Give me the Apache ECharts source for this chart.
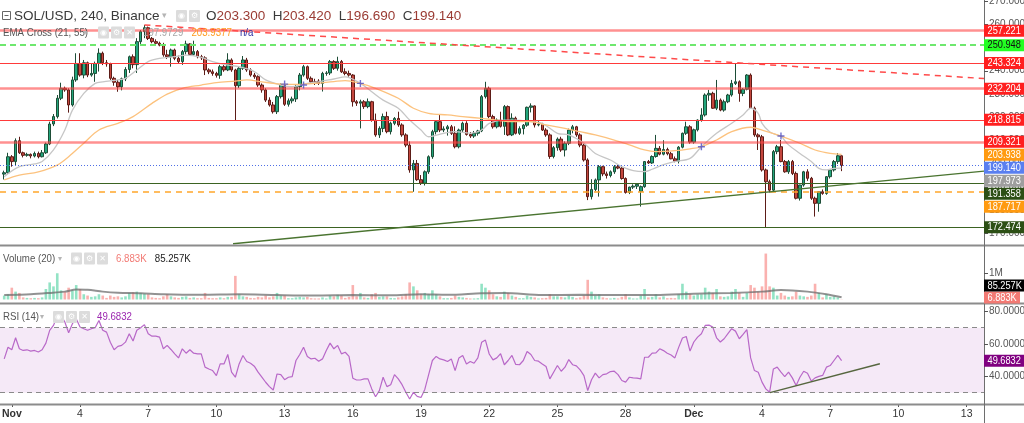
<!DOCTYPE html>
<html><head><meta charset="utf-8">
<script src="https://cdn.jsdelivr.net/npm/echarts@6/dist/echarts.min.js"></script>
<style>html,body{margin:0;padding:0;background:#fff;overflow:hidden}#c{width:1024px;height:423px}</style>
</head><body><div id="c"></div>
<script>
// ---------- DATA ----------
const firstIndex = -2; // candle index of first bar (0 = 1 Nov 00:00, 6 bars per day)
// [open, high, low, close]
const ohlc = [
[195.4,196.9,193.1,196.0],[196.0,204.6,195.4,202.9],[202.9,203.6,198.6,200.8],[200.8,210.8,199.0,209.8],
[209.8,211.5,204.1,204.6],[204.6,205.1,202.6,203.5],[203.5,204.6,202.9,203.9],[203.9,204.3,202.2,203.2],
[203.2,205.1,202.6,204.3],[204.3,205.1,202.2,202.9],[202.9,205.8,202.6,204.6],[204.6,209.0,204.1,208.4],
[208.4,218.0,207.9,217.0],[217.0,221.3,216.1,220.2],[220.2,229.5,219.4,228.1],[228.1,234.8,227.3,232.4],
[232.4,233.1,230.9,231.7],[231.7,232.4,221.9,225.2],[225.2,237.4,224.5,236.0],[236.0,247.5,235.2,243.1],
[243.1,247.5,237.4,238.1],[238.1,244.6,236.7,243.4],[243.4,243.9,237.2,238.1],[238.1,243.1,237.4,238.8],
[238.8,243.9,235.2,243.1],[243.1,249.6,239.6,247.5],[247.5,248.2,242.4,243.4],[243.4,244.6,241.7,242.9],
[242.9,243.4,236.0,236.7],[236.7,237.4,233.5,235.0],[235.0,236.0,230.9,233.0],[233.0,237.0,231.5,236.5],
[236.5,241.5,235.5,240.5],[240.5,246.5,239.0,246.0],[246.0,247.0,241.0,242.6],[242.6,254.0,239.0,252.5],
[252.5,257.5,251.5,256.8],[256.8,259.7,254.0,258.5],[258.5,259.0,253.2,253.9],[253.9,254.5,251.8,252.5],
[252.5,253.5,251.0,251.8],[251.8,252.5,250.5,251.0],[251.0,252.0,246.0,246.8],[246.8,249.0,245.0,246.0],
[246.0,249.5,241.7,248.9],[248.9,249.5,244.5,245.3],[245.3,246.5,243.1,243.9],[243.9,248.9,242.5,248.2],
[248.2,252.9,247.0,251.5],[251.5,251.8,246.5,247.0],[247.0,252.9,246.5,248.2],[248.2,248.9,245.3,246.0],
[246.0,246.8,244.6,245.5],[245.5,246.2,238.1,240.3],[240.3,241.0,238.5,239.5],[239.5,240.5,237.8,238.8],
[238.8,239.5,237.0,238.0],[238.0,242.5,236.5,241.7],[241.7,242.4,239.5,240.3],[240.3,247.5,239.8,244.6],
[244.6,245.3,239.5,240.3],[240.3,240.8,218.7,233.5],[233.5,241.5,232.5,241.0],[241.0,246.3,240.3,244.6],
[244.6,245.5,239.5,240.3],[240.3,241.0,237.4,238.1],[238.1,239.0,236.5,237.4],[237.4,238.0,233.0,233.8],
[233.8,234.5,230.5,231.7],[231.7,232.4,226.5,227.3],[227.3,228.5,224.5,225.2],[225.2,226.5,221.5,222.3],
[222.3,229.5,221.3,228.8],[228.8,234.5,228.0,233.8],[233.8,234.2,224.8,225.5],[225.5,228.0,224.5,227.0],
[227.0,228.8,225.9,227.8],[227.8,233.8,226.5,233.1],[233.1,239.0,231.5,238.1],[238.1,242.5,237.4,241.7],
[241.7,242.2,236.0,236.7],[236.7,237.5,234.5,235.2],[235.2,236.5,233.8,234.5],[235.5,236.3,233.8,234.5],
[234.5,239.5,231.0,238.8],[238.8,239.8,237.8,239.0],[239.0,244.6,238.1,243.9],[243.9,244.5,240.3,241.0],
[241.0,246.0,240.0,243.9],[243.9,244.6,239.0,239.5],[239.5,241.0,238.0,238.8],[238.8,240.0,237.4,238.1],
[238.1,238.5,224.5,226.6],[226.6,227.3,224.8,226.0],[226.0,227.5,215.1,226.6],[226.6,227.3,223.5,224.5],
[224.5,228.0,223.8,226.6],[226.6,227.0,218.0,218.7],[218.7,221.5,211.5,212.3],[212.3,216.0,211.0,215.1],
[215.1,221.5,213.5,220.2],[220.2,222.3,213.0,213.7],[213.7,218.0,212.5,217.3],[217.3,220.0,216.5,219.4],
[219.4,222.3,215.8,216.6],[216.6,217.3,211.5,212.3],[212.3,213.0,207.0,207.9],[207.9,209.5,196.0,197.2],
[197.2,201.5,187.8,200.0],[200.0,201.5,192.5,193.0],[193.0,195.0,190.7,191.5],[191.5,197.0,190.5,196.4],
[196.4,203.5,195.5,202.9],[202.9,214.5,202.0,213.7],[213.7,218.7,212.5,218.0],[218.0,220.9,213.5,214.4],
[214.4,216.0,213.5,214.9],[214.9,216.6,212.0,215.8],[215.8,216.6,212.3,213.0],[213.0,216.0,206.5,207.2],
[207.2,215.0,206.5,214.4],[214.4,218.0,213.5,217.3],[217.3,218.2,212.0,212.5],[212.5,213.5,211.0,211.8],
[211.8,214.0,211.0,213.0],[213.0,214.5,212.0,214.0],[214.0,229.5,213.5,228.8],[228.8,235.2,228.0,232.4],
[232.4,233.1,219.5,220.2],[220.2,221.0,215.0,215.8],[215.8,219.4,215.1,218.7],[218.7,222.3,215.5,216.0],
[216.0,225.2,212.3,224.5],[224.5,225.0,211.8,212.3],[212.3,221.6,211.8,219.5],[219.5,220.2,212.5,213.0],
[213.0,216.0,212.3,215.0],[215.0,217.0,212.5,216.5],[216.5,224.5,215.8,224.2],[224.2,225.9,222.0,224.8],
[224.8,225.0,215.5,216.6],[216.6,218.7,216.0,216.8],[216.8,217.5,214.0,214.4],[214.4,215.2,211.5,212.3],
[212.3,213.0,202.0,203.0],[203.0,207.5,202.2,206.8],[206.8,211.2,205.5,210.5],[210.5,211.5,205.0,205.8],
[205.8,209.5,203.0,208.7],[208.7,215.0,207.9,214.4],[214.4,216.6,213.0,215.8],[215.8,216.2,211.5,212.3],
[212.3,213.0,207.0,207.9],[207.9,208.5,200.8,201.5],[201.5,202.2,184.2,185.7],[185.7,193.2,184.5,188.8],
[188.8,193.5,188.0,192.9],[192.9,199.3,185.7,198.6],[198.6,199.0,194.5,195.5],[195.5,196.5,193.5,194.8],
[194.8,197.0,194.0,196.4],[196.4,199.3,195.5,198.6],[198.6,199.5,197.5,198.0],[198.0,198.5,193.0,193.5],
[193.5,194.0,187.0,187.5],[187.5,190.0,186.8,189.8],[189.8,191.0,189.0,190.2],[190.2,191.5,189.0,191.0],
[188.0,190.5,181.4,190.0],[190.0,201.0,189.5,200.8],[200.8,201.5,199.8,200.2],[200.2,203.5,199.8,203.0],
[203.0,212.3,202.5,206.5],[206.5,207.5,203.5,204.0],[204.0,210.0,203.5,206.0],[206.0,206.8,203.5,204.2],
[204.2,205.0,201.8,202.0],[202.0,203.0,200.5,201.0],[201.0,207.5,200.0,207.0],[207.0,213.3,206.5,213.0],
[213.0,218.0,212.3,215.8],[215.8,216.5,208.5,209.2],[209.2,215.0,208.5,214.5],[214.5,219.0,213.8,218.7],
[218.7,223.8,218.0,220.9],[220.9,230.2,220.2,229.5],[229.5,231.7,227.0,230.2],[230.2,230.9,223.5,223.8],
[223.8,236.0,223.0,227.3],[227.3,228.0,222.5,223.0],[223.0,227.5,222.3,226.6],[226.6,230.0,226.0,229.5],
[229.5,236.0,228.8,234.5],[234.5,243.1,233.8,235.2],[235.2,235.8,226.6,230.2],[230.2,232.5,229.0,232.0],
[232.0,238.5,231.5,238.1],[238.1,238.8,223.5,223.8],[223.8,224.5,211.5,212.3],[212.3,213.0,205.8,211.5],
[211.5,212.3,196.5,197.2],[197.2,197.8,172.474,192.1],[192.1,193.0,187.5,188.5],[188.5,205.8,188.0,205.1],
[205.1,208.0,204.0,207.2],[207.2,210.1,200.5,200.8],[200.8,201.5,196.0,196.4],[196.4,201.5,195.5,200.8],
[200.8,201.5,195.0,195.7],[195.7,196.5,184.5,185.0],[185.0,190.8,184.0,190.7],[190.7,196.8,190.0,196.4],
[196.4,197.5,192.5,193.6],[193.6,194.2,184.3,185.0],[185.0,185.7,177.1,182.8],[182.8,188.0,179.2,187.8],
[187.8,188.8,186.5,187.1],[187.1,194.5,186.5,194.3],[194.3,197.5,193.5,197.2],[197.2,201.5,196.5,200.8],
[200.8,204.5,199.8,203.3],[203.3,203.42,196.69,199.14]
];
// volume per bar, in thousands
const volumes = [
150,200,450,300,250,80,60,50,60,50,80,400,650,500,1000,350,300,450,350,550,400,200,150,100,120,200,150,60,150,100,
120,80,120,250,280,300,250,220,200,80,60,50,120,200,120,80,60,100,120,60,80,50,50,250,60,50,50,80,50,100,
100,900,200,120,100,60,50,100,80,150,80,120,250,150,150,50,50,80,100,80,100,50,40,40,80,40,150,120,180,150,
60,100,550,120,250,80,60,200,250,100,120,120,60,50,80,120,200,650,500,350,200,250,200,350,200,120,50,50,60,150,
100,80,60,40,40,50,600,450,350,200,120,100,300,250,150,100,50,50,150,100,80,40,50,60,200,120,120,100,80,150,
100,50,80,150,750,300,150,200,80,50,40,60,40,100,200,80,40,40,150,400,80,100,200,80,120,50,60,50,200,600,
300,200,150,200,200,450,300,250,400,120,100,120,300,400,250,100,250,550,450,300,500,1750,500,450,150,250,150,100,
120,300,150,120,100,150,600,250,80,200,100,120,80,6.883
];
// RSI(14) per bar
const rsiValues = [
50.8,58.0,56.4,63.8,57.0,56.0,56.4,55.6,56.0,55.0,56.4,60.5,68.4,71.4,77.2,77.6,73.5,66.9,72.5,75.6,
70.4,69.4,68.4,69.4,70.0,74.5,68.4,67.3,61.1,56.4,58.5,59.1,61.1,66.3,61.8,68.4,70.0,71.9,66.3,64.8,
64.8,64.2,57.0,59.1,56.6,53.9,51.4,57.0,54.3,56.4,54.3,53.9,53.9,45.7,44.6,43.6,40.5,47.7,47.7,53.5,
42.6,39.5,47.7,52.9,49.2,48.1,46.3,42.6,39.5,36.4,33.7,31.6,41.5,41.1,38.0,39.5,39.9,49.8,53.5,58.0,
52.3,50.8,51.2,49.4,50.8,56.0,60.5,57.0,59.1,53.9,54.9,52.3,38.9,37.8,37.8,38.5,38.5,32.3,27.5,31.2,
39.5,33.7,34.9,41.1,38.5,34.9,30.2,26.1,30.2,27.7,27.0,32.0,41.0,49.8,52.3,50.8,50.2,49.2,50.8,43.6,
51.4,52.9,47.7,49.2,48.1,51.4,61.0,62.4,53.8,50.2,51.4,54.0,47.2,49.8,52.9,47.4,47.2,49.8,55.4,53.5,
49.8,49.4,47.7,46.1,38.5,42.6,46.7,43.2,45.7,50.4,47.2,46.5,44.0,40.5,31.3,37.9,42.0,39.1,41.1,41.6,
43.0,43.2,41.1,37.5,36.5,39.5,39.1,38.9,38.5,51.8,51.8,54.3,54.5,57.0,55.9,54.3,53.2,51.4,57.9,63.7,
64.6,55.6,61.2,64.2,66.3,71.4,71.6,70.4,63.8,61.2,63.2,66.3,69.4,67.9,63.2,65.9,68.8,51.4,43.6,42.6,
36.5,32.3,30.2,44.6,45.7,42.6,39.9,42.6,39.1,34.4,39.5,43.2,42.0,37.1,39.1,40.0,40.6,45.7,46.7,49.8,
52.9,49.6832
];
// EMA lines: [bar index, price]
const ema21Points = [[-2,194.3],[2,198.6],[6,199.8],[8,200.8],[11,205.8],[14,214.4],[16,223.0],[19,230.2],[22,234.5],[24,235.2],[28,236.0],[30,236.7],[33,240.3],[36,243.9],[39,245.3],[43,246.0],[46,246.7],[50,245.7],[53,243.9],[57,242.4],[60,241.7],[64,239.6],[67,236.0],[71,233.8],[74,233.1],[78,234.5],[81,235.2],[85,236.4],[88,237.3],[92,234.5],[95,230.9],[98,227.3],[102,223.8],[105,218.7],[108,214.4],[110,211.5],[114,213.0],[117,213.7],[121,213.0],[124,214.4],[126,217.3],[130,218.7],[133,218.7],[137,218.0],[140,217.3],[144,213.0],[147,212.3],[151,208.7],[154,204.3],[158,201.5],[161,198.6],[164,196.9],[167,196.5],[169,197.5],[172,199.5],[175,200.8],[179,202.2],[182,207.2],[186,213.0],[190,217.3],[193,220.9],[195,223.8],[197,221.6],[198,217.3],[200,213.7],[202,212.3],[203,211.8],[205,208.0],[208,204.3],[211,200.8],[213,197.9],[215,197.2],[217,197.9],[219,197.973]];
const ema55Points = [[-2,192.9],[2,195.0],[7,196.4],[12,199.3],[15,202.9],[19,208.7],[23,214.4],[28,217.3],[32,220.2],[37,225.9],[41,229.9],[45,232.4],[50,233.8],[54,234.8],[59,235.5],[62,236.0],[66,235.2],[69,234.5],[72,234.1],[76,234.1],[80,234.5],[85,235.3],[88,235.7],[92,234.5],[96,232.4],[102,228.1],[106,223.8],[110,221.6],[115,220.9],[119,220.2],[124,219.4],[128,218.7],[132,218.0],[137,218.0],[141,216.6],[146,215.1],[150,213.7],[154,212.3],[159,210.1],[163,208.0],[167,205.8],[170,205.1],[175,205.5],[179,206.3],[182,207.2],[186,210.1],[190,213.7],[195,215.6],[198,214.4],[203,211.8],[208,208.7],[212,205.8],[216,204.3],[219,203.938]];
const emaCrossPoints = [[72,234.2],[77,233.8],[92,234.5],[182,207.2],[203,211.8]];
// volume MA(20), thousands
const volMaPoints = [[-2,170],[5,200],[10,250],[14,300],[17,380],[20,370],[24,300],[28,260],[34,240],[40,200],[50,180],[60,200],[70,170],[80,150],[90,170],[100,160],[108,200],[115,180],[124,240],[130,250],[140,170],[150,180],[160,170],[170,170],[180,220],[190,250],[198,300],[203,360],[210,300],[215,200],[219,85.257]];
const levels = [257.221, 250.948, 243.324, 232.204, 218.815, 209.321, 191.358, 187.717, 172.474];
const lastPrice = 199.140, ema21Last = 197.973, ema55Last = 203.938;
const ema21Legend = '197.9729', ema55Legend = '203.9377';
const volMaLast = 85.257, volLast = 6.883, rsiLast = 49.6832;
const greenTrend = [[58.4,165.4],[256.6,196.7]];
const redTrend = [[35,259.7],[256.6,236.6]];
const rsiTrend = [[200.1,30.0],[229.1,47.8]];
const xTickIndex = [0,18,36,54,72,90,108,126,144,162,180,198,216,234,252];
const xTickLabels = ['Nov','4','7','10','13','16','19','22','25','28','Dec','4','7','10','13'];
const priceTicks = [170,180,190,200,210,220,230,240,250,260,270];
const volTicks = [1000];
const rsiTicks = [40,60,80];
const rsiBand = [30,70];

// ---------- STYLES ----------
const SANS = "'Liberation Sans',Arial,sans-serif";
const levelStyles = [
  {color:'rgba(255,70,70,0.6)', width:2.5, type:'solid'},
  {color:'#6ee86e', width:2, type:[6,4]},
  {color:'#ff3a3a', width:1.2, type:'solid'},
  {color:'rgba(255,70,70,0.6)', width:2.5, type:'solid'},
  {color:'#ff3a3a', width:1.2, type:'solid'},
  {color:'rgba(255,70,70,0.6)', width:2.5, type:'solid'},
  {color:'#3b6322', width:1.2, type:'solid'},
  {color:'#ffa62b', width:1.5, type:[6,5]},
  {color:'#3b6322', width:1.2, type:'solid'}
];
const levelBoxStyles = [
  {bg:'#ff1f1f',fg:'#fff'},{bg:'#22ff22',fg:'#111'},{bg:'#ff1f1f',fg:'#fff'},{bg:'#ff1f1f',fg:'#fff'},
  {bg:'#ff1f1f',fg:'#fff'},{bg:'#ff1f1f',fg:'#fff'},{bg:'#2c4f15',fg:'#fff'},{bg:'#ff9a10',fg:'#fff'},{bg:'#2c4f15',fg:'#fff'}
];

const xMin = -11.8/3.789, xMax = xMin + 984/3.789;
const candleData = ohlc.map((r,k)=>[firstIndex+k, r[0], r[3], r[2], r[1]]);
const volData = volumes.map((v,k)=>{const r=ohlc[k];const up=r[3]>=r[0];
  return {value:[firstIndex+k, v], itemStyle:{color: up?'rgba(40,200,140,0.5)':'rgba(245,100,95,0.5)'}};});
const rsiData = rsiValues.map((v,k)=>[firstIndex+k, v]);

const chart = echarts.init(document.getElementById('c'));
function xAx(i, show){
  return {type:'value', gridIndex:i, min:xMin, max:xMax, show:true,
    axisLine:{show:false}, splitLine:{show:false},
    axisTick: show?{show:true, customValues:xTickIndex, length:3, lineStyle:{color:'#555'}}:{show:false},
    axisLabel: show?{show:true, customValues:xTickIndex, margin:5, fontFamily:SANS, fontSize:10.5, color:'#333',
      formatter:(v)=>{const k=xTickIndex.indexOf(Math.round(v)); const t=xTickLabels[k]; return (t==='Nov'||t==='Dec')?'{b|'+t+'}':t;},
      rich:{b:{fontWeight:'bold', fontFamily:SANS, fontSize:10.5, color:'#333'}}}:{show:false}};
}
function yAx(i, min, max, ticks, fmt){
  return {type:'value', gridIndex:i, position:'right', min:min, max:max,
    axisLine:{show:false}, splitLine:{show:false}, axisTick:{show:false},
    axisLabel:{show:true, customValues:ticks, formatter:fmt, margin:5, fontFamily:SANS, fontSize:10, color:'#555'}};
}
const gridBase = {left:0, width:984, outerBoundsMode:'none', containLabel:false};
const option = {
  animation:false,
  backgroundColor:'#fff',
  grid:[Object.assign({top:0,height:245},gridBase),Object.assign({top:247,height:52.5},gridBase),Object.assign({top:305,height:99},gridBase)],
  xAxis:[xAx(0,false),xAx(1,false),xAx(2,true)],
  yAxis:[yAx(0,164.85,270.45,priceTicks,v=>v.toFixed(3)), yAx(1,0,2000,volTicks,()=> '1M'), yAx(2,23,84,rsiTicks,v=>v.toFixed(4))],
  series:[
    {type:'line', xAxisIndex:0, yAxisIndex:0, data:[], z:4, silent:true,
      markLine:{silent:true, symbol:['none','none'], animation:false, label:{show:false},
        data: levels.map((v,k)=>({yAxis:v, lineStyle:levelStyles[k]})).concat([{yAxis:lastPrice, lineStyle:{color:'#4f6fe6', width:1, type:[1,2]}}])}},
    {type:'candlestick', xAxisIndex:0, yAxisIndex:0, data:candleData, encode:{x:0,y:[1,2,3,4]}, barWidth:3, z:2,
      itemStyle:{color:'#22a67c', color0:'#c4463d', borderColor:'#1d4d37', borderColor0:'#5c1c17', borderWidth:1}},
    {type:'line', xAxisIndex:0, yAxisIndex:0, data:ema21Points, smooth:0.35, symbol:'none', z:3, lineStyle:{color:'#c6c6c6', width:1.3}},
    {type:'line', xAxisIndex:0, yAxisIndex:0, data:ema55Points, smooth:0.35, symbol:'none', z:3, lineStyle:{color:'#fcc27e', width:1.3}},
    {type:'line', xAxisIndex:0, yAxisIndex:0, data:greenTrend, symbol:'none', z:5, clip:true, lineStyle:{color:'#4a7430', width:1.4}},
    {type:'line', xAxisIndex:0, yAxisIndex:0, data:redTrend, symbol:'none', z:5, clip:true, lineStyle:{color:'#ff4a4a', width:1.5, type:[6,5]}},
    {type:'scatter', xAxisIndex:0, yAxisIndex:0, data:emaCrossPoints, z:6, symbol:'path://M4,0H6V4H10V6H6V10H4V6H0V4H4Z', symbolSize:7, itemStyle:{color:'#4d4dc4'}},
    {type:'bar', xAxisIndex:1, yAxisIndex:1, data:volData, barWidth:2.6, z:2},
    {type:'line', xAxisIndex:1, yAxisIndex:1, data:volMaPoints, smooth:0.3, symbol:'none', z:3, lineStyle:{color:'rgba(110,110,110,0.75)', width:2}},
    {type:'line', xAxisIndex:2, yAxisIndex:2, data:rsiData, symbol:'none', z:3, lineStyle:{color:'#b868c8', width:1.2},
      markArea:{silent:true, itemStyle:{color:'rgba(156,39,176,0.1)'}, data:[[{yAxis:rsiBand[0]},{yAxis:rsiBand[1]}]]},
      markLine:{silent:true, symbol:['none','none'], label:{show:false}, lineStyle:{color:'#8a8a8a', width:1, type:[5,4]},
        data:[{yAxis:rsiBand[1]},{yAxis:rsiBand[0]}]}},
    {type:'line', xAxisIndex:2, yAxisIndex:2, data:rsiTrend, symbol:'none', z:4, lineStyle:{color:'#56663f', width:1.3}}
  ]
};
chart.setOption(option);

// ---------- overlays: separators, legends, axis value boxes ----------
const g = [];
function hline(y, c, w){ g.push({type:'line', silent:true, z:100, shape:{x1:0,y1:y,x2:1024,y2:y}, style:{stroke:c, lineWidth:w}}); }
hline(245.5,'#8c8c8c',2); hline(303.5,'#8c8c8c',2); hline(404.5,'#8c8c8c',2);
g.push({type:'line', silent:true, z:100, shape:{x1:984.5,y1:0,x2:984.5,y2:423}, style:{stroke:'#6e6e6e', lineWidth:1}});
// right-axis tick marks at the label values
[[0,priceTicks],[1,volTicks],[2,rsiTicks]].forEach(([ax,ts])=>ts.forEach(t=>{const y=Math.round(chart.convertToPixel({yAxisIndex:ax}, t))+0.5;
  g.push({type:'line', silent:true, z:101, shape:{x1:984,y1:y,x2:988,y2:y}, style:{stroke:'#555', lineWidth:1}});}));
function txt(x,y,t,style,sx){ g.push({type:'text', silent:true, z:110, x:x, y:y, scaleX:sx||1, style:Object.assign({text:t, verticalAlign:'middle', align:'left'}, style)}); }
function icons(x,y,n){ for(let k=0;k<n;k++){ g.push({type:'rect', silent:true, z:110, shape:{x:x+k*13,y:y-6,width:11,height:12,r:1}, style:{fill:'#dcdcdc'}});
  g.push({type:'text', silent:true, z:111, x:x+k*13+5.5, y:y, style:{text:['◉','⚙','✕'][k], fill:'#fff', fontSize:8, fontFamily:'DejaVu Sans', align:'center', verticalAlign:'middle'}}); } }
const SX = 0.88;
// main legend
g.push({type:'rect', silent:true, z:110, shape:{x:2.5,y:11.5,width:8,height:8}, style:{fill:'#fff', stroke:'#666', lineWidth:1}});
g.push({type:'line', silent:true, z:111, shape:{x1:4.5,y1:15.5,x2:8.5,y2:15.5}, style:{stroke:'#666', lineWidth:1}});
txt(14,16,'SOL/USD, 240, Binance',{fill:'#3a3a3a', fontSize:13.5, fontFamily:SANS});
txt(162,16,'▾',{fill:'#b5b5b5', fontSize:9, fontFamily:'DejaVu Sans'});
icons(176,16,2);
const ohlcLast = ohlc[ohlc.length-1];
txt(206,16,'{k|O}{v|'+ohlcLast[0].toFixed(3)+'}  {k|H}{v|'+ohlcLast[1].toFixed(3)+'}  {k|L}{v|'+ohlcLast[2].toFixed(3)+'}  {k|C}{v|'+ohlcLast[3].toFixed(3)+'}',
  {fontSize:13.5, fontFamily:SANS, rich:{k:{fill:'#3a3a3a', fontSize:13.5, fontFamily:SANS}, v:{fill:'#9a3b33', fontSize:13.5, fontFamily:SANS}}});
txt(3,32.5,'EMA Cross (21, 55)',{fill:'#555', fontSize:11, fontFamily:SANS},SX);
txt(83,32.5,'▾',{fill:'#b5b5b5', fontSize:8, fontFamily:'DejaVu Sans'});
icons(98,32.5,3);
txt(143,32.5,'{g|'+ema21Legend+'}   {o|'+ema55Legend+'}   {b|n/a}',
  {fontSize:11, fontFamily:SANS, rich:{g:{fill:'#a8a8a8',fontSize:11,fontFamily:SANS}, o:{fill:'#ff9b20',fontSize:11,fontFamily:SANS}, b:{fill:'#2b2b9e',fontSize:11,fontFamily:SANS}}},SX);
// volume legend
txt(3,258.5,'Volume (20)',{fill:'#555', fontSize:11, fontFamily:SANS},SX);
txt(58,258.5,'▾',{fill:'#b5b5b5', fontSize:8, fontFamily:'DejaVu Sans'});
icons(71,258.5,3);
txt(116,258.5,'{r|'+volLast.toFixed(3)+'K}   {k|'+volMaLast.toFixed(3)+'K}',
  {fontSize:11, fontFamily:SANS, rich:{r:{fill:'#f27a74',fontSize:11,fontFamily:SANS}, k:{fill:'#222',fontSize:11,fontFamily:SANS}}},SX);
// rsi legend
txt(3,317,'RSI (14)',{fill:'#555', fontSize:11, fontFamily:SANS},SX);
txt(40,317,'▾',{fill:'#b5b5b5', fontSize:8, fontFamily:'DejaVu Sans'});
icons(53,317,3);
txt(97,317,rsiLast.toFixed(4),{fill:'#9c27b0', fontSize:11, fontFamily:SANS},SX);

function box(y, text, bg, fg, w){
  g.push({type:'rect', silent:true, z:120, shape:{x:984,y:y-6,width:w||40,height:12}, style:{fill:bg}});
  g.push({type:'text', silent:true, z:121, x:987.5, y:y, scaleX:0.84, style:{text:text, fill:fg, fontSize:11, fontFamily:SANS, verticalAlign:'middle', align:'left'}});
}
// price pane boxes (stacked to avoid overlap, like the platform does)
const priceBoxes = levels.map((v,k)=>({v:v, bg:levelBoxStyles[k].bg, fg:levelBoxStyles[k].fg}))
  .concat([{v:ema55Last,bg:'#ff9a10',fg:'#fff'},{v:lastPrice,bg:'#5a7ff0',fg:'#fff'},{v:ema21Last,bg:'#9e9e9e',fg:'#fff'}]);
priceBoxes.forEach(b=>{b.y=chart.convertToPixel({yAxisIndex:0}, b.v);});
priceBoxes.sort((a,b)=>a.y-b.y);
let prev=-100; priceBoxes.forEach(b=>{b.y=Math.max(b.y, prev+13); prev=b.y; box(b.y, b.v.toFixed(3), b.bg, b.fg);});
// volume pane boxes
const vb=[{v:volLast,t:volLast.toFixed(3)+'K',bg:'#f27a74',w:36},{v:volMaLast,t:volMaLast.toFixed(3)+'K',bg:'#000',w:40}];
vb.forEach(b=>{b.y=Math.min(chart.convertToPixel({yAxisIndex:1}, b.v), 297.5);});
vb.sort((a,b)=>b.y-a.y); let pv=1000; vb.forEach(b=>{b.y=Math.min(b.y,pv-12); pv=b.y; box(b.y,b.t,b.bg,'#fff',b.w);});
box(chart.convertToPixel({yAxisIndex:2}, rsiLast), rsiLast.toFixed(4), '#800080', '#fff');
chart.setOption({graphic:g});
</script></body></html>
